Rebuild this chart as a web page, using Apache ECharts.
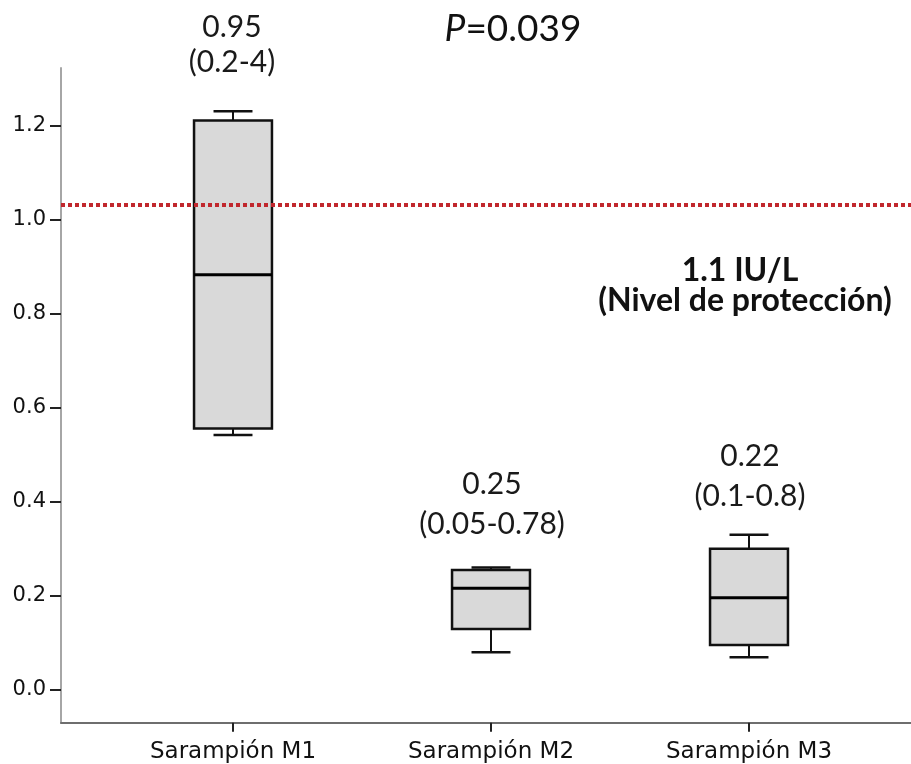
<!DOCTYPE html>
<html>
<head>
<meta charset="utf-8">
<script src="https://cdn.jsdelivr.net/npm/echarts@6/dist/echarts.min.js"></script>
<style>
  html, body { margin: 0; padding: 0; background: #ffffff; }
  #chart { width: 911px; height: 764px; }
</style>
</head>
<body>
<div id="chart"></div>
<script>
// Measles antibody levels per sampling moment (box-and-whisker summary)
const categories = ['Sarampión M1', 'Sarampión M2', 'Sarampión M3'];
const whiskerLow = [0.541, 0.079, 0.068];
const quartile1 = [0.555, 0.128, 0.094];
const medians = [0.882, 0.215, 0.195];
const quartile3 = [1.210, 0.254, 0.299];
const whiskerHigh = [1.230, 0.259, 0.329];

// Annotated summary (median and range) above each group
const groupMedianText = ['0.95', '0.25', '0.22'];
const groupRangeText = ['(0.2-4)', '(0.05-0.78)', '(0.1-0.8)'];

// Protection threshold line
const protectionLevel = 1.0315;
const protectionText = ['1.1 IU/L', '(Nivel de protección)'];
const pValueText = '0.039';

const yTickValues = [0, 0.2, 0.4, 0.6, 0.8, 1.0, 1.2];
const yMin = -0.0711;
const yMax = 1.3219;

const boxData = categories.map((c, i) => [i, whiskerLow[i], quartile1[i], medians[i], quartile3[i], whiskerHigh[i]]);

function renderBox(params, api) {
  const x = api.value(0);
  const lo = api.coord([x, api.value(1)]);
  const q1 = api.coord([x, api.value(2)]);
  const med = api.coord([x, api.value(3)]);
  const q3 = api.coord([x, api.value(4)]);
  const hi = api.coord([x, api.value(5)]);
  const bw = api.size([1, 0])[0] * 0.302;
  const cx = lo[0];
  const half = bw / 2;
  const cap = bw / 4;
  const stroke = '#111';
  return {
    type: 'group',
    children: [
      { type: 'line', shape: { x1: cx, y1: hi[1], x2: cx, y2: q3[1] }, style: { stroke, lineWidth: 2 } },
      { type: 'line', shape: { x1: cx, y1: q1[1], x2: cx, y2: lo[1] }, style: { stroke, lineWidth: 2 } },
      { type: 'line', shape: { x1: cx - cap, y1: hi[1], x2: cx + cap, y2: hi[1] }, style: { stroke, lineWidth: 2.5 } },
      { type: 'line', shape: { x1: cx - cap, y1: lo[1], x2: cx + cap, y2: lo[1] }, style: { stroke, lineWidth: 2.5 } },
      { type: 'rect', shape: { x: cx - half, y: q3[1], width: bw, height: q1[1] - q3[1] },
        style: { fill: '#d9d9d9', stroke, lineWidth: 2.5 } },
      { type: 'line', shape: { x1: cx - half, y1: med[1], x2: cx + half, y2: med[1] }, style: { stroke: '#000', lineWidth: 3 } }
    ]
  };
}

const annoFont = 'Lato, "Open Sans", sans-serif';
const groupCenters = [232, 492, 750];
const medianY = [27, 484, 456];
const rangeY = [62, 524, 496];

const graphics = [];
categories.forEach((c, i) => {
  graphics.push({ type: 'text', x: groupCenters[i], y: medianY[i],
    style: { text: groupMedianText[i], font: '30px ' + annoFont, fill: '#1a1a1a', textAlign: 'center', textVerticalAlign: 'middle' } });
  graphics.push({ type: 'text', x: groupCenters[i], y: rangeY[i],
    style: { text: groupRangeText[i], font: '30px ' + annoFont, fill: '#1a1a1a', textAlign: 'center', textVerticalAlign: 'middle' } });
});
graphics.push({ type: 'text', x: 740, y: 271,
  style: { text: protectionText[0], font: 'bold 32px ' + annoFont, fill: '#111', textAlign: 'center', textVerticalAlign: 'middle' } });
graphics.push({ type: 'text', x: 745, y: 301,
  style: { text: protectionText[1], font: 'bold 32px ' + annoFont, fill: '#111', textAlign: 'center', textVerticalAlign: 'middle' } });
graphics.push({ type: 'text', x: 513, y: 29,
  style: {
    text: '{i|P}=' + pValueText,
    font: '37px ' + annoFont, fill: '#111', textAlign: 'center', textVerticalAlign: 'middle',
    rich: { i: { fontStyle: 'italic', fontSize: 37, fontFamily: annoFont, fill: '#111' } }
  } });

const chart = echarts.init(document.getElementById('chart'), null, { renderer: 'canvas' });
chart.setOption({
  backgroundColor: '#ffffff',
  animation: false,
  grid: [
    { left: 61, right: 0, top: 68, bottom: 41.3 },
    { left: 104, right: 33, top: 68, bottom: 41.3 }
  ],
  xAxis: [
    {
      gridIndex: 0, type: 'value', min: 0, max: 1, position: 'bottom',
      axisLine: { show: true, onZero: false, lineStyle: { color: '#6e6e6e', width: 2 } },
      axisTick: { show: false }, axisLabel: { show: false }, splitLine: { show: false }
    },
    {
      gridIndex: 1, type: 'category', data: categories, boundaryGap: true, position: 'bottom',
      axisLine: { show: false, onZero: false },
      axisTick: { show: true, alignWithLabel: true, length: 9, lineStyle: { color: '#222', width: 2 } },
      axisLabel: { margin: 18, color: '#111', fontFamily: '"DejaVu Sans", sans-serif', fontSize: 23 },
      splitLine: { show: false }
    }
  ],
  yAxis: [
    {
      gridIndex: 0, type: 'value', min: yMin, max: yMax,
      axisLine: { show: true, onZero: false, lineStyle: { color: '#a6a6a6', width: 2 } },
      axisTick: { show: true, length: 11, customValues: yTickValues, lineStyle: { color: '#222', width: 2 } },
      axisLabel: {
        customValues: yTickValues, margin: 15, color: '#111',
        fontFamily: '"DejaVu Sans", sans-serif', fontSize: 21,
        formatter: v => v.toFixed(1)
      },
      splitLine: { show: false }
    },
    {
      gridIndex: 1, type: 'value', min: yMin, max: yMax, show: false, splitLine: { show: false }
    }
  ],
  series: [
    {
      type: 'line', xAxisIndex: 0, yAxisIndex: 0, data: [], silent: true,
      markLine: {
        silent: true, symbol: 'none', label: { show: false },
        lineStyle: { color: '#c1272d', width: 4, type: [4, 3] },
        data: [{ yAxis: protectionLevel }]
      }
    },
    {
      type: 'custom', xAxisIndex: 1, yAxisIndex: 1,
      renderItem: renderBox,
      data: boxData,
      encode: { x: 0, y: [1, 2, 3, 4, 5] }
    }
  ],
  graphic: graphics
});
</script>
</body>
</html>
